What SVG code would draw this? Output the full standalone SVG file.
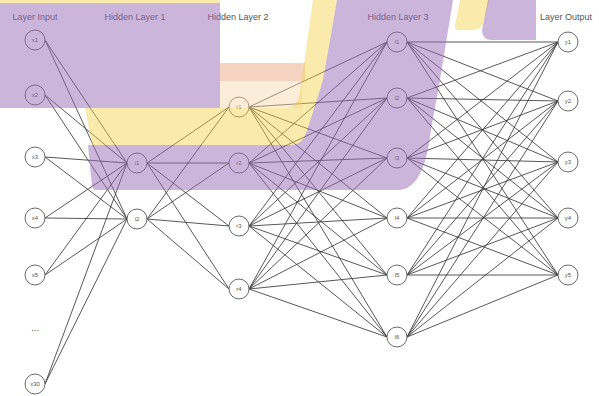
<svg xmlns="http://www.w3.org/2000/svg" width="599" height="396" viewBox="0 0 599 396">
  <style>
    .bg { fill: #ffffff; }
    .edge { stroke: #3a3a3a; stroke-width: 0.85; fill: none; }
    .node circle { fill: #ffffff; stroke: #6a6a6a; stroke-width: 1; }
    .node text { font-family: "Liberation Sans", Arial, sans-serif; font-size: 6px; fill: #555; text-anchor: middle; dominant-baseline: central; }
    .title { font-family: "Liberation Sans", Arial, sans-serif; font-size: 9px; fill: #555; text-anchor: middle; }
    .purple { fill: #9a6cb8; opacity: 0.5; }
    .yellow { fill: #f5d24a; opacity: 0.45; }
    .orange { fill: #eb9b73; opacity: 0.45; }
    .peach { fill: #f6d8a8; opacity: 0.45; }
  </style>
  <rect class="bg" x="0" y="0" width="599" height="396"/>

  <!-- connectors -->
  <g id="connectors">
    <!-- input -> hidden 1 -->
    <line class="edge" x1="45" y1="40" x2="127" y2="163"/><line class="edge" x1="45" y1="40" x2="127" y2="219"/>
    <line class="edge" x1="45" y1="95" x2="127" y2="163"/><line class="edge" x1="45" y1="95" x2="127" y2="219"/>
    <line class="edge" x1="45" y1="157" x2="127" y2="163"/><line class="edge" x1="45" y1="157" x2="127" y2="219"/>
    <line class="edge" x1="45" y1="218" x2="127" y2="163"/><line class="edge" x1="45" y1="218" x2="127" y2="219"/>
    <line class="edge" x1="45" y1="275" x2="127" y2="163"/><line class="edge" x1="45" y1="275" x2="127" y2="219"/>
    <line class="edge" x1="45" y1="384" x2="127" y2="163"/><line class="edge" x1="45" y1="384" x2="127" y2="219"/>
    <!-- hidden 1 -> hidden 2 -->
    <line class="edge" x1="147" y1="163" x2="229" y2="107"/><line class="edge" x1="147" y1="163" x2="229" y2="163"/>
    <line class="edge" x1="147" y1="163" x2="229" y2="226"/><line class="edge" x1="147" y1="163" x2="229" y2="289"/>
    <line class="edge" x1="147" y1="219" x2="229" y2="107"/><line class="edge" x1="147" y1="219" x2="229" y2="163"/>
    <line class="edge" x1="147" y1="219" x2="229" y2="226"/><line class="edge" x1="147" y1="219" x2="229" y2="289"/>
    <!-- hidden 2 -> hidden 3 -->
    <line class="edge" x1="249" y1="107" x2="387" y2="42"/><line class="edge" x1="249" y1="107" x2="387" y2="98"/><line class="edge" x1="249" y1="107" x2="387" y2="158"/><line class="edge" x1="249" y1="107" x2="387" y2="218"/><line class="edge" x1="249" y1="107" x2="387" y2="275"/><line class="edge" x1="249" y1="107" x2="387" y2="337"/>
    <line class="edge" x1="249" y1="163" x2="387" y2="42"/><line class="edge" x1="249" y1="163" x2="387" y2="98"/><line class="edge" x1="249" y1="163" x2="387" y2="158"/><line class="edge" x1="249" y1="163" x2="387" y2="218"/><line class="edge" x1="249" y1="163" x2="387" y2="275"/><line class="edge" x1="249" y1="163" x2="387" y2="337"/>
    <line class="edge" x1="249" y1="226" x2="387" y2="42"/><line class="edge" x1="249" y1="226" x2="387" y2="98"/><line class="edge" x1="249" y1="226" x2="387" y2="158"/><line class="edge" x1="249" y1="226" x2="387" y2="218"/><line class="edge" x1="249" y1="226" x2="387" y2="275"/><line class="edge" x1="249" y1="226" x2="387" y2="337"/>
    <line class="edge" x1="249" y1="289" x2="387" y2="42"/><line class="edge" x1="249" y1="289" x2="387" y2="98"/><line class="edge" x1="249" y1="289" x2="387" y2="158"/><line class="edge" x1="249" y1="289" x2="387" y2="218"/><line class="edge" x1="249" y1="289" x2="387" y2="275"/><line class="edge" x1="249" y1="289" x2="387" y2="337"/>
    <!-- hidden 3 -> output -->
    <line class="edge" x1="407" y1="42" x2="558" y2="42"/><line class="edge" x1="407" y1="42" x2="558" y2="101"/><line class="edge" x1="407" y1="42" x2="558" y2="162"/><line class="edge" x1="407" y1="42" x2="558" y2="218"/><line class="edge" x1="407" y1="42" x2="558" y2="275"/>
    <line class="edge" x1="407" y1="98" x2="558" y2="42"/><line class="edge" x1="407" y1="98" x2="558" y2="101"/><line class="edge" x1="407" y1="98" x2="558" y2="162"/><line class="edge" x1="407" y1="98" x2="558" y2="218"/><line class="edge" x1="407" y1="98" x2="558" y2="275"/>
    <line class="edge" x1="407" y1="158" x2="558" y2="42"/><line class="edge" x1="407" y1="158" x2="558" y2="101"/><line class="edge" x1="407" y1="158" x2="558" y2="162"/><line class="edge" x1="407" y1="158" x2="558" y2="218"/><line class="edge" x1="407" y1="158" x2="558" y2="275"/>
    <line class="edge" x1="407" y1="218" x2="558" y2="42"/><line class="edge" x1="407" y1="218" x2="558" y2="101"/><line class="edge" x1="407" y1="218" x2="558" y2="162"/><line class="edge" x1="407" y1="218" x2="558" y2="218"/><line class="edge" x1="407" y1="218" x2="558" y2="275"/>
    <line class="edge" x1="407" y1="275" x2="558" y2="42"/><line class="edge" x1="407" y1="275" x2="558" y2="101"/><line class="edge" x1="407" y1="275" x2="558" y2="162"/><line class="edge" x1="407" y1="275" x2="558" y2="218"/><line class="edge" x1="407" y1="275" x2="558" y2="275"/>
    <line class="edge" x1="407" y1="337" x2="558" y2="42"/><line class="edge" x1="407" y1="337" x2="558" y2="101"/><line class="edge" x1="407" y1="337" x2="558" y2="162"/><line class="edge" x1="407" y1="337" x2="558" y2="218"/><line class="edge" x1="407" y1="337" x2="558" y2="275"/>
  </g>

  <!-- input layer -->
  <g id="input-x1" class="node"><circle cx="35" cy="40" r="10"/><text x="35" y="40">x1</text></g>
  <g id="input-x2" class="node"><circle cx="35" cy="95" r="10"/><text x="35" y="95">x2</text></g>
  <g id="input-x3" class="node"><circle cx="35" cy="157" r="10"/><text x="35" y="157">x3</text></g>
  <g id="input-x4" class="node"><circle cx="35" cy="218" r="10"/><text x="35" y="218">x4</text></g>
  <g id="input-x5" class="node"><circle cx="35" cy="275" r="10"/><text x="35" y="275">x5</text></g>
  <text class="title" x="35" y="331">...</text>
  <g id="input-x30" class="node"><circle cx="35" cy="384" r="10"/><text x="35" y="384">x30</text></g>

  <!-- hidden layer 1 -->
  <g id="h1-1" class="node"><circle cx="137" cy="163" r="10"/><text x="137" y="163">i1</text></g>
  <g id="h1-2" class="node"><circle cx="137" cy="219" r="10"/><text x="137" y="219">i2</text></g>

  <!-- hidden layer 2 -->
  <g id="h2-1" class="node"><circle cx="239" cy="107" r="10"/><text x="239" y="107">r1</text></g>
  <g id="h2-2" class="node"><circle cx="239" cy="163" r="10"/><text x="239" y="163">r2</text></g>
  <g id="h2-3" class="node"><circle cx="239" cy="226" r="10"/><text x="239" y="226">r3</text></g>
  <g id="h2-4" class="node"><circle cx="239" cy="289" r="10"/><text x="239" y="289">r4</text></g>

  <!-- hidden layer 3 -->
  <g id="h3-1" class="node"><circle cx="397" cy="42" r="10"/><text x="397" y="42">l1</text></g>
  <g id="h3-2" class="node"><circle cx="397" cy="98" r="10"/><text x="397" y="98">l2</text></g>
  <g id="h3-3" class="node"><circle cx="397" cy="158" r="10"/><text x="397" y="158">l3</text></g>
  <g id="h3-4" class="node"><circle cx="397" cy="218" r="10"/><text x="397" y="218">l4</text></g>
  <g id="h3-5" class="node"><circle cx="397" cy="275" r="10"/><text x="397" y="275">l5</text></g>
  <g id="h3-6" class="node"><circle cx="397" cy="337" r="10"/><text x="397" y="337">l6</text></g>

  <!-- output layer -->
  <g id="out-y1" class="node"><circle cx="568" cy="42" r="10"/><text x="568" y="42">y1</text></g>
  <g id="out-y2" class="node"><circle cx="568" cy="101" r="10"/><text x="568" y="101">y2</text></g>
  <g id="out-y3" class="node"><circle cx="568" cy="162" r="10"/><text x="568" y="162">y3</text></g>
  <g id="out-y4" class="node"><circle cx="568" cy="218" r="10"/><text x="568" y="218">y4</text></g>
  <g id="out-y5" class="node"><circle cx="568" cy="275" r="10"/><text x="568" y="275">y5</text></g>

  <!-- layer titles -->
  <text class="title" x="35" y="20">Layer Input</text>
  <text class="title" x="135" y="20">Hidden Layer 1</text>
  <text class="title" x="238" y="20">Hidden Layer 2</text>
  <text class="title" x="398" y="20">Hidden Layer 3</text>
  <text class="title" x="566" y="20">Layer Output</text>

  <!-- translucent highlight ribbons -->
  <g id="highlights">
    <rect class="yellow" x="0" y="0" width="220" height="3"/>
    <rect class="orange" x="220" y="63" width="85" height="18"/>
    <rect class="peach" x="220" y="81" width="82" height="27"/>
    <path class="yellow" d="M85,108 L286,108 Q298,108 300,92 L313,0 L337,0 L323,80 L313,112 L306,133 Q302,145 290,145 L92,145 Z"/>
    <path class="purple" d="M88,145 L290,145 Q302,145 306,133 L313,112 L323,80 L337,0 L453,0 L440,80 L431,130 Q424,190 398,190 L96,190 Q93,190 92,186 Z"/>
    <rect class="purple" x="0" y="3" width="220" height="105"/>
    <path class="yellow" d="M460,0 L490,0 L482,26 Q479,30 472,30 L458,30 Q454,30 455,25 Z"/>
    <path class="purple" d="M488,0 L536,0 L536,40 L492,40 Q482,40 482,30 Z"/>
  </g>
</svg>
